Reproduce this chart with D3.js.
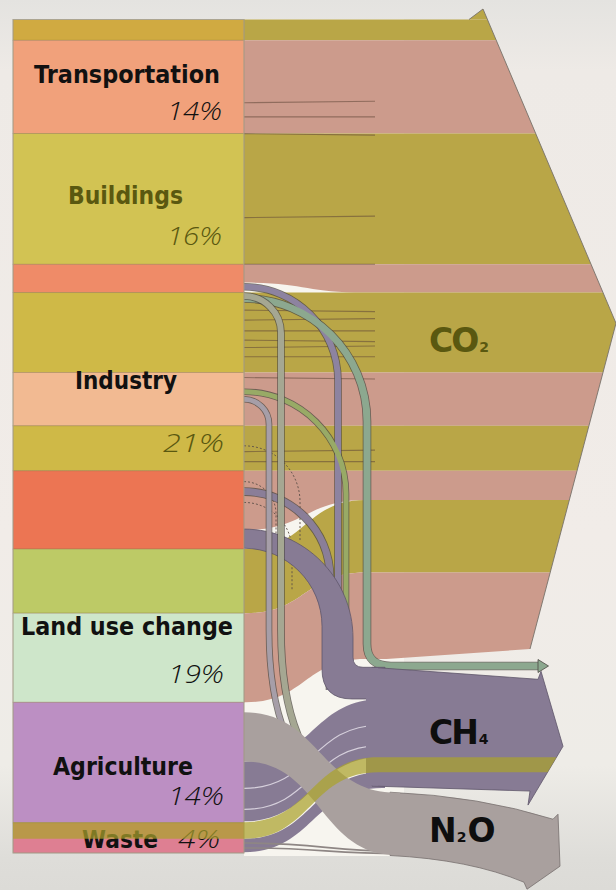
<!DOCTYPE html>
<html>
<head>
<meta charset="utf-8">
<script src="https://cdn.jsdelivr.net/npm/d3@7"></script>
<style>
html, body { margin: 0; padding: 0; background: #e9e7e3; }
svg { display: block; }
</style>
</head>
<body>
<script>
// Some colour codes
var olive = "#B9A647";
var rose = "#CC9B8C";
var ch4Purple = "#877B94";
var n2oGrey = "#A9A09E";
var darkOlive = "#5A5810";

// Left column: sector bands top to bottom, share of total height (%)
var sectorBands = [2.5, 11.2, 15.7, 3.4, 9.6, 6.4, 5.4, 9.4, 7.7, 10.7, 14.5, 3.6];
var sectorBandColors = ["#D0AA41", "#F1A17B", "#D2C353", "#EF8B68", "#CFB947", "#F2BA92",
                        "#CFB947", "#EC7553", "#BDCA66", "#CEE6CA", "#BC8FC3", "#DE7F92"];

var sectors = ["Transportation", "Buildings", "Industry", "Land use change", "Agriculture", "Waste"];
var sectorShares = ["14%", "16%", "21%", "19%", "14%", "4%"];

// CO2 ribbons: start on the sector side, width going in, width arriving in the CO2 arrow
var co2From = [0, 2.5, 13.7, 29.4, 32.8, 42.4, 48.8, 54.2, 63.6, 71.3];
var co2WidthIn = [2.5, 11.2, 15.7, 2.2, 9.6, 6.4, 5.4, 7.1, 7.7, 10.7];
var co2WidthOut = [2.5, 11.2, 15.7, 3.4, 9.6, 6.4, 5.4, 3.5, 8.7, 10.4];

// CH4 ribbons: industry, agriculture, waste (olive), waste
var ch4Start = 77.8;
var ch4From = [61.2, 89.1, 96.4, 98.4];
var ch4WidthIn = [2.3, 7.2, 2.0, 1.6];
var ch4WidthOut = [3.8, 7.0, 1.8, 1.9];

// N2O ribbon from agriculture
var n2oStart = 92.8;
var n2oFrom = [83.2];
var n2oWidthIn = [5.9];
var n2oWidthOut = [7.6];
var n2oThinFrom = [98.9, 99.5];

// thin flows leaving industry, and where they end
var thinFrom = [32.1, 33.2, 33.5, 44.7, 45.6, 56.7];
var thinTo = ["CH4", "N2O", "other", "CH4", "N2O", "CH4"];
var dashFrom = [51.2, 55.5, 58.0];

// sub-flow dividers inside the CO2 bands
var dividers = [10.0, 11.7, 13.7, 23.8, 29.4, 34.9, 36.1, 37.4, 38.5, 39.4, 40.5, 43.0, 51.9, 53.1];

var gases = ["CO", "CH", "N"];
var gasSubs = ["2", "4", "2"];

// layout
var W = 616, H = 890;
var xL = 13, xS = 244, xG = 375;
var laneX = [338, 281, 367, 346, 269, 330];
var laneW = [6, 6, 7, 5, 5, 7];
var laneColor = ["#8D83A0", "#A5A792", "#8CA88F", "#98AA66", "#A69EA8", "#8A7E98"];
var dashLane = [300, 276, 292];
var boldFont = "'DejaVu Sans', 'Liberation Sans', sans-serif";

var y = d3.scaleLinear().domain([0, d3.sum(sectorBands)]).range([19.5, 853]);

var svg = d3.select("body").append("svg")
    .attr("width", W)
    .attr("height", H);

var defs = svg.append("defs");
var bg = defs.append("linearGradient").attr("id", "bg").attr("x1", 0).attr("y1", 0).attr("x2", 0).attr("y2", 1);
[["0", "#E4E3E0"], ["0.08", "#EEEAE6"], ["0.6", "#F1ECE8"], ["0.86", "#EEECE7"], ["0.965", "#DEDDD9"], ["1", "#DCDBD7"]]
    .forEach(function (s) { bg.append("stop").attr("offset", s[0]).attr("stop-color", s[1]); });

svg.append("rect").attr("width", W).attr("height", H).attr("fill", "url(#bg)");

// paper behind the flows, shows through the gaps
svg.append("rect")
    .attr("x", xS).attr("y", y(0))
    .attr("width", 160).attr("height", y(100.1) - y(0) + 3)
    .attr("fill", "#F7F5EF");

function ribbon(x0, x1, x2, x3, s0, s1, t0, t1) {
    var m = (x1 + x2) / 2;
    var p = d3.path();
    p.moveTo(x0, s0);
    p.lineTo(x1, s0);
    p.bezierCurveTo(m, s0, m, t0, x2, t0);
    p.lineTo(x3, t0);
    p.lineTo(x3, t1);
    p.lineTo(x2, t1);
    p.bezierCurveTo(m, t1, m, s1, x1, s1);
    p.lineTo(x0, s1);
    p.closePath();
    return p.toString();
}

function lanePath(ys, lx, kind) {
    var r = lx - xS;
    var p = d3.path();
    p.moveTo(xS, ys);
    p.bezierCurveTo(xS + 0.55 * r, ys, lx, ys + 0.45 * r, lx, ys + r);
    if (kind == "CH4") {
        p.lineTo(lx, 690);
    } else if (kind == "N2O") {
        p.lineTo(lx, 630);
        p.bezierCurveTo(lx, 715, lx + 22, 770, lx + 70, 798);
    } else if (kind == "dash") {
        p.lineTo(lx, ys + r + 40);
    } else {
        p.lineTo(lx, 644);
        p.quadraticCurveTo(lx, 666, lx + 24, 666);
        p.lineTo(539, 666);
    }
    return p.toString();
}

// ---------- CO2 arrow ----------
var co2Top = y(0);
var co2Bottom = y(d3.sum(co2WidthOut));
var co2Tip = co2Top + 0.475 * (co2Bottom - co2Top);

defs.append("clipPath").attr("id", "co2clip")
    .append("polygon")
    .attr("points", [[0, 0], [483, 9], [616, co2Tip], [530, co2Bottom - 10], [372, co2Bottom + 1], [372, H], [0, H]].join(" "));

var co2To = d3.cumsum([0].concat(co2WidthOut));
var co2Group = svg.append("g").attr("clip-path", "url(#co2clip)");

co2Group.selectAll("path.co2")
    .data(co2From)
    .enter()
    .append("path")
    .attr("class", "co2")
    .attr("d", function (d, i) {
        return ribbon(xS, xS + 2, xG - 10, 630, y(d), y(d + co2WidthIn[i]), y(co2To[i]), y(co2To[i] + co2WidthOut[i]));
    })
    .style("fill", function (d, i) { return i % 2 == 0 ? olive : rose; });

co2Group.selectAll("line.div")
    .data(dividers)
    .enter()
    .append("line")
    .attr("x1", xS)
    .attr("x2", xG)
    .attr("y1", function (d) { return y(d); })
    .attr("y2", function (d, i) { return y(d) + (i % 3 - 1) * 1.5; })
    .style("stroke", "rgba(95,70,55,0.55)")
    .style("stroke-width", 1.1);

// little flick at the top corner and the edge line
svg.append("polygon")
    .attr("points", [[469, co2Top], [483, 9], [487.4, co2Top]].join(" "))
    .style("fill", olive);
svg.append("path")
    .attr("d", "M469," + co2Top + "L483,9L616," + co2Tip + "L530," + (co2Bottom - 10))
    .style("fill", "none")
    .style("stroke", "#77726A")
    .style("stroke-width", 0.9);

// ---------- thin flows ----------
function drawLanes(filterFn) {
    var idx = d3.range(thinFrom.length).filter(filterFn);
    var g = svg.append("g");
    g.selectAll("path.out")
        .data(idx)
        .enter()
        .append("path")
        .attr("d", function (i) { return lanePath(y(thinFrom[i]), laneX[i], thinTo[i]); })
        .style("fill", "none")
        .style("stroke", "#4C4842")
        .style("stroke-opacity", 0.75)
        .style("stroke-width", function (i) { return laneW[i] + 1.6; });
    g.selectAll("path.in")
        .data(idx)
        .enter()
        .append("path")
        .attr("d", function (i) { return lanePath(y(thinFrom[i]), laneX[i], thinTo[i]); })
        .style("fill", "none")
        .style("stroke", function (i) { return laneColor[i]; })
        .style("stroke-width", function (i) { return laneW[i]; });
}

svg.selectAll("path.dash")
    .data(dashFrom)
    .enter()
    .append("path")
    .attr("d", function (d, i) { return lanePath(y(d), dashLane[i], "dash"); })
    .style("fill", "none")
    .style("stroke", "#5E5048")
    .style("stroke-width", 0.9)
    .style("stroke-dasharray", "2,2");

drawLanes(function (i) { return thinTo[i] != "N2O"; });

// teal arrow head
svg.append("polygon")
    .attr("points", [[538, 659.5], [548.5, 666], [538, 672.5]].join(" "))
    .style("fill", laneColor[2])
    .style("stroke", "#4C4842")
    .style("stroke-width", 0.8);

// ---------- CH4 ----------
var ch4To = d3.cumsum([ch4Start].concat(ch4WidthOut));
var c1 = {
    s0: y(ch4From[0]), s1: y(ch4From[0] + ch4WidthIn[0]),
    t0: y(ch4To[0]), t1: y(ch4To[1]), v0: 322, v1: 353
};
var elbow = d3.path();
var R1 = c1.v1 - xS, R0 = c1.v0 - xS;
elbow.moveTo(xS, c1.s0);
elbow.bezierCurveTo(xS + 0.55 * R1, c1.s0, c1.v1, c1.s0 + 0.45 * R1, c1.v1, c1.s0 + R1);
elbow.lineTo(c1.v1, c1.t0 - 10);
elbow.quadraticCurveTo(c1.v1, c1.t0, c1.v1 + 10, c1.t0);
elbow.lineTo(385, c1.t0);
elbow.lineTo(385, c1.t1);
elbow.lineTo(c1.v0 + 30, c1.t1);
elbow.quadraticCurveTo(c1.v0, c1.t1, c1.v0, c1.t1 - 30);
elbow.lineTo(c1.v0, c1.s1 + R0);
elbow.bezierCurveTo(c1.v0, c1.s1 + 0.45 * R0, xS + 0.55 * R0, c1.s1, xS, c1.s1);
elbow.closePath();

svg.append("path").attr("d", elbow.toString())
    .style("fill", ch4Purple)
    .style("stroke", "#5E566A")
    .style("stroke-width", 0.8);

var ch4Top = y(ch4To[0]);
var ch4Bottom = y(ch4To[ch4To.length - 1]);
var ch4Shape = [[372, ch4Top], [538, ch4Top + 12], [541, ch4Top + 4], [563, ch4Top + 79],
                [528, ch4Bottom + 17], [530, ch4Bottom + 3], [372, ch4Bottom - 2]];

[1, 3].forEach(function (i) {
    svg.append("path")
        .attr("d", ribbon(xS, xS, 382, 385, y(ch4From[i]), y(ch4From[i] + ch4WidthIn[i]), y(ch4To[i]), y(ch4To[i + 1])))
        .style("fill", ch4Purple);
});

// pale streaks inside the agriculture methane
[0.45, 0.8].forEach(function (f) {
    var s = y(ch4From[1] + f * ch4WidthIn[1]);
    var t = y(ch4To[1] + f * ch4WidthOut[1]);
    svg.append("path")
        .attr("d", "M" + xS + "," + s + "C312," + s + " 312," + t + " 380," + t)
        .style("fill", "none")
        .style("stroke", "#D6D0DC")
        .style("stroke-width", 1.1);
});

svg.append("polygon")
    .attr("points", ch4Shape.join(" "))
    .style("fill", ch4Purple)
    .style("stroke", "#5E566A")
    .style("stroke-width", 0.8);
// cover the seam where the ribbons meet the arrow body
svg.append("rect")
    .attr("x", 366).attr("y", ch4Top + 0.6)
    .attr("width", 12).attr("height", ch4Bottom - ch4Top - 3)
    .style("fill", ch4Purple);

// ---------- N2O ----------
var n2oTop = y(n2oStart);
var n2oBottom = y(n2oStart + n2oWidthOut[0]);

drawLanes(function (i) { return thinTo[i] == "N2O"; });

svg.selectAll("path.n2othin")
    .data(n2oThinFrom)
    .enter()
    .append("path")
    .attr("d", function (d, i) {
        var s = y(d);
        return "M" + xS + "," + s + "C320," + s + " 330," + (n2oBottom - 4 + i * 2) + " 400," + (n2oBottom - 4 + i * 2);
    })
    .style("fill", "none")
    .style("stroke", "#8E8684")
    .style("stroke-width", 1.6);

var n2oArrow = d3.path();
n2oArrow.moveTo(390, n2oTop);
n2oArrow.quadraticCurveTo(480, n2oTop + 4, 553, n2oTop + 27);
n2oArrow.lineTo(558, n2oTop + 22);
n2oArrow.lineTo(560, n2oTop + 74);
n2oArrow.lineTo(527, n2oTop + 97);
n2oArrow.lineTo(524, n2oTop + 90);
n2oArrow.quadraticCurveTo(470, n2oBottom + 4, 390, n2oBottom);
n2oArrow.closePath();
svg.append("path").attr("d", n2oArrow.toString())
    .style("fill", n2oGrey)
    .style("stroke", "#77706E")
    .style("stroke-width", 0.8);

svg.append("path")
    .attr("d", ribbon(xS, xS, 396, 400, y(n2oFrom[0]), y(n2oFrom[0] + n2oWidthIn[0]), n2oTop + 0.5, n2oBottom - 0.5))
    .style("fill", n2oGrey);

// ---------- left column ----------
var bandTops = d3.cumsum([0].concat(sectorBands));
svg.selectAll("rect.band")
    .data(sectorBands)
    .enter()
    .append("rect")
    .attr("x", xL)
    .attr("y", function (d, i) { return y(bandTops[i]); })
    .attr("width", xS - xL)
    .attr("height", function (d) { return y(d) - y(0); })
    .style("fill", function (d, i) { return sectorBandColors[i]; })
    .style("stroke", "rgba(140,115,70,0.45)")
    .style("stroke-width", 0.8);

svg.append("rect")
    .attr("x", xL).attr("y", y(0))
    .attr("width", xS - xL).attr("height", y(100.1) - y(0))
    .style("fill", "none")
    .style("stroke", "#A9A598")
    .style("stroke-width", 0.8);

// sector labels
var labelPos = [
    { x: 127, y: 83, w: 186, c: "#111" },
    { x: 125.5, y: 204, w: 115, c: darkOlive },
    { x: 126, y: 389, w: 102, c: "#111" },
    { x: 127, y: 635, w: 212, c: "#111" },
    { x: 123, y: 775, w: 140, c: "#111" },
    { x: 120, y: 848, w: 76, c: "#111" }
];
var sharePos = [
    { x: 222, y: 120, w: 55, c: "#111" },
    { x: 222, y: 245, w: 55, c: darkOlive },
    { x: 224, y: 452, w: 61, c: darkOlive },
    { x: 224, y: 683, w: 56, c: "#111" },
    { x: 224, y: 805, w: 56, c: "#111" },
    { x: 220, y: 848, w: 42, c: "#111" }
];

svg.selectAll("text.sector")
    .data(sectors)
    .enter()
    .append("text")
    .attr("x", function (d, i) { return labelPos[i].x - labelPos[i].w / 2; })
    .attr("y", function (d, i) { return labelPos[i].y; })
    .attr("textLength", function (d, i) { return labelPos[i].w; })
    .attr("lengthAdjust", "spacingAndGlyphs")
    .style("font-family", boldFont)
    .style("font-weight", "bold")
    .style("font-size", "24.5px")
    .style("fill", function (d, i) { return labelPos[i].c; })
    .text(function (d) { return d; });

svg.selectAll("text.share")
    .data(sectorShares)
    .enter()
    .append("text")
    .attr("x", function (d, i) { return sharePos[i].x - sharePos[i].w; })
    .attr("y", function (d, i) { return sharePos[i].y; })
    .attr("textLength", function (d, i) { return sharePos[i].w; })
    .attr("lengthAdjust", "spacingAndGlyphs")
    .style("font-family", "'Open Sans', 'DejaVu Sans', sans-serif")
    .style("font-style", "italic")
    .style("font-weight", 300)
    .style("font-size", "25px")
    .style("fill", function (d, i) { return sharePos[i].c; })
    .text(function (d) { return d; });

// waste methane: translucent olive laid over the waste bar and into CH4
defs.append("clipPath").attr("id", "ch4clip")
    .append("polygon")
    .attr("points", [[0, 0], [372, 0]].concat(ch4Shape.slice(1, 6)).concat([[372, H], [0, H]]).join(" "));

svg.append("path")
    .attr("clip-path", "url(#ch4clip)")
    .attr("d", ribbon(xL, xS, 378, 600, y(ch4From[2]), y(ch4From[2] + ch4WidthIn[2]), y(ch4To[2]), y(ch4To[3])))
    .style("fill", "#ABA22C")
    .style("fill-opacity", 0.72);

// gas labels
var gasX = 429;
var gasY = [y(39.9), y(87.0), y(98.8)];
var gasColor = [darkOlive, "#0E0E0E", "#0E0E0E"];
var gasText = svg.selectAll("text.gas")
    .data(gases)
    .enter()
    .append("text")
    .attr("x", gasX)
    .attr("y", function (d, i) { return gasY[i]; })
    .style("font-family", boldFont)
    .style("font-weight", "bold")
    .style("font-size", "33px")
    .style("letter-spacing", "-2px")
    .style("fill", function (d, i) { return gasColor[i]; });

gasText.append("tspan").text(function (d) { return d; });
gasText.append("tspan")
    .style("font-size", "14px")
    .style("letter-spacing", "0px")
    .attr("dx", 2)
    .text(function (d, i) { return gasSubs[i]; });
gasText.filter(function (d, i) { return i == 2; })
    .append("tspan")
    .attr("dx", 1)
    .text("O");
</script>
</body>
</html>
